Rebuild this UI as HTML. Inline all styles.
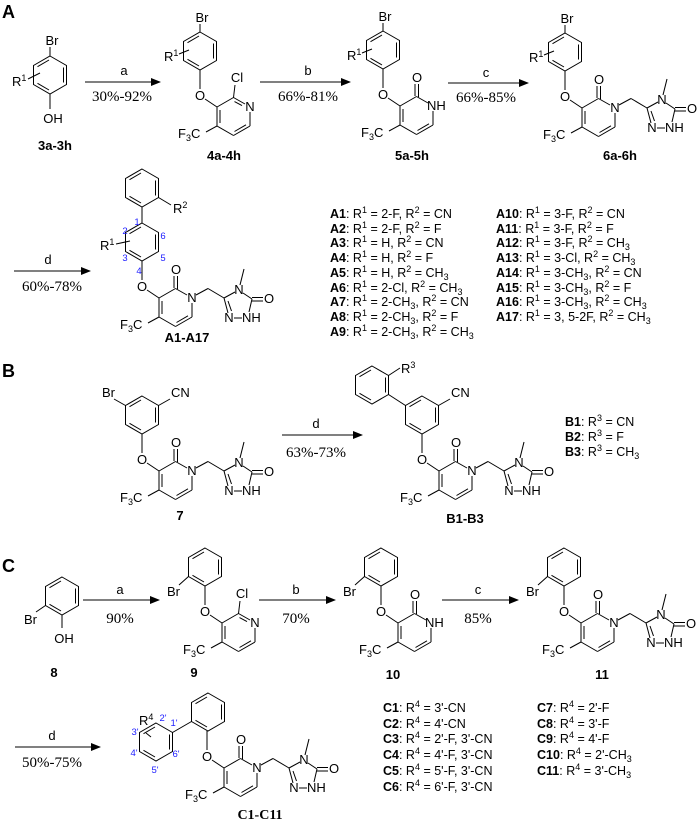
<!DOCTYPE html>
<html><head><meta charset="utf-8"><style>
html,body{margin:0;padding:0;background:#fff;}
svg{display:block;}
.t{font-family:"Liberation Sans",sans-serif;font-size:13px;fill:#000;}
.m{text-anchor:middle;}
.e{text-anchor:end;}
.y{font-family:"Liberation Serif",serif;font-size:15px;text-anchor:middle;}
.b{font-family:"Liberation Sans",sans-serif;font-size:13px;font-weight:bold;text-anchor:middle;}
.l{font-family:"Liberation Sans",sans-serif;font-size:12.5px;}
.h{font-family:"Liberation Sans",sans-serif;font-size:18px;font-weight:bold;}
.n{font-family:"Liberation Sans",sans-serif;font-size:9.5px;fill:#2020ff;text-anchor:middle;}
.s{font-size:9px;}
</style></head><body>
<svg width="700" height="823" viewBox="0 0 700 823" xmlns="http://www.w3.org/2000/svg">
<defs>
<marker id="ah" markerWidth="10" markerHeight="8" refX="9" refY="4" orient="auto" markerUnits="userSpaceOnUse"><path d="M0,0 L10,4 L0,8 Z" fill="#000"/></marker>
<g id="ring" fill="none" stroke="#000" stroke-width="1">
<polygon points="0,-19 16.5,-9.5 16.5,9.5 0,19 -16.5,9.5 -16.5,-9.5"/>
<line x1="13.5" y1="-7.5" x2="13.5" y2="7.5"/>
<line x1="-1" y1="15" x2="-12.5" y2="8.3"/>
<line x1="-12.5" y1="-8.3" x2="-1" y2="-15"/>
</g>
<g id="pyr" fill="none" stroke="#000" stroke-width="1">
<line x1="0" y1="-26" x2="0" y2="-7"/>
<line x1="5" y1="3" x2="17" y2="11"/>
<line x1="17" y1="11" x2="33.5" y2="1.5"/>
<line x1="33.5" y1="1.5" x2="45" y2="8"/>
<line x1="50" y1="16" x2="50" y2="30"/>
<line x1="50" y1="30" x2="33.5" y2="39.5"/>
<line x1="33.5" y1="39.5" x2="17" y2="30"/>
<line x1="17" y1="30" x2="17" y2="11"/>
<line x1="20" y1="14" x2="20" y2="27"/>
<line x1="46" y1="28.8" x2="34.5" y2="35.5"/>
<line x1="17" y1="30" x2="6" y2="36"/>
</g>
<g id="co" fill="none" stroke="#000" stroke-width="1">
<line x1="32" y1="1" x2="32" y2="-11"/>
<line x1="35.5" y1="2" x2="35.5" y2="-11"/>
</g>
<g id="cl" fill="none" stroke="#000" stroke-width="1">
<line x1="33.5" y1="1.5" x2="35" y2="-11"/>
<line x1="34.5" y1="5.6" x2="42" y2="9.6"/>
</g>
<g id="tri" fill="none" stroke="#000" stroke-width="1">
<line x1="54" y1="8" x2="66" y2="1.5"/>
<line x1="66" y1="1.5" x2="82" y2="11"/>
<line x1="82" y1="11" x2="93" y2="5"/>
<line x1="101" y1="6" x2="110" y2="12"/>
<line x1="110" y1="10.5" x2="121" y2="10.5"/>
<line x1="110" y1="14" x2="121" y2="14"/>
<line x1="110" y1="12" x2="107" y2="25"/>
<line x1="92" y1="31" x2="100" y2="31"/>
<line x1="86" y1="26" x2="82" y2="11"/>
<line x1="89.5" y1="24" x2="86" y2="14"/>
<line x1="98" y1="-2" x2="102" y2="-18"/>
</g>
</defs>

<text class="h" x="2" y="18">A</text>
<text class="h" x="2" y="377">B</text>
<text class="h" x="2" y="572">C</text>

<!-- 3a-3h -->
<use href="#ring" x="50" y="75"/>
<line x1="50" y1="56" x2="50" y2="47" stroke="#000"/>
<line x1="50" y1="94" x2="50" y2="109" stroke="#000"/>
<line x1="28" y1="79" x2="40" y2="73" stroke="#000"/>
<text class="t m" x="52" y="45">Br</text>
<text class="t m" x="53" y="123">OH</text>
<text class="t" x="12" y="86">R<tspan class="s" dy="-5">1</tspan></text>
<text class="b" x="55" y="150">3a-3h</text>

<line x1="85" y1="82" x2="160" y2="82" stroke="#000" marker-end="url(#ah)"/>
<text class="t m" x="124" y="75">a</text>
<text class="y" x="122" y="101">30%-92%</text>
<line x1="260" y1="82" x2="350" y2="82" stroke="#000" marker-end="url(#ah)"/>
<text class="t m" x="308" y="75">b</text>
<text class="y" x="308" y="101">66%-81%</text>
<line x1="448" y1="83" x2="528" y2="83" stroke="#000" marker-end="url(#ah)"/>
<text class="t m" x="486" y="77">c</text>
<text class="y" x="486" y="102">66%-85%</text>

<!-- 4a-4h -->
<g transform="translate(200,96)">
<use href="#ring" x="0" y="-45"/>
<line x1="0" y1="-64" x2="0" y2="-72" stroke="#000"/>
<line x1="-21" y1="-42" x2="-11" y2="-46" stroke="#000"/>
<use href="#pyr"/><use href="#cl"/>
<text class="t m" x="2" y="-74">Br</text>
<text class="t" x="-36" y="-35">R<tspan class="s" dy="-5">1</tspan></text>
<text class="t m" x="0" y="4">O</text>
<text class="t m" x="37" y="-14">Cl</text>
<text class="t m" x="50" y="15">N</text>
<text class="t" x="-22" y="42">F<tspan class="s" dy="3">3</tspan><tspan dy="-3">C</tspan></text>
</g>
<text class="b" x="224" y="160">4a-4h</text>

<!-- 5a-5h -->
<g transform="translate(383,95)">
<use href="#ring" x="0" y="-45"/>
<line x1="0" y1="-64" x2="0" y2="-72" stroke="#000"/>
<line x1="-21" y1="-42" x2="-11" y2="-46" stroke="#000"/>
<use href="#pyr"/><use href="#co"/>
<text class="t m" x="2" y="-74">Br</text>
<text class="t" x="-36" y="-35">R<tspan class="s" dy="-5">1</tspan></text>
<text class="t m" x="0" y="4">O</text>
<text class="t m" x="34" y="-13">O</text>
<text class="t" x="44" y="15">NH</text>
<text class="t" x="-22" y="42">F<tspan class="s" dy="3">3</tspan><tspan dy="-3">C</tspan></text>
</g>
<text class="b" x="412" y="160">5a-5h</text>

<!-- 6a-6h -->
<g transform="translate(565,97)">
<use href="#ring" x="0" y="-45"/>
<line x1="0" y1="-64" x2="0" y2="-72" stroke="#000"/>
<line x1="-21" y1="-42" x2="-11" y2="-46" stroke="#000"/>
<use href="#pyr"/><use href="#co"/><use href="#tri"/>
<text class="t m" x="2" y="-74">Br</text>
<text class="t" x="-36" y="-35">R<tspan class="s" dy="-5">1</tspan></text>
<text class="t m" x="0" y="4">O</text>
<text class="t m" x="34" y="-13">O</text>
<text class="t m" x="50" y="15">N</text>
<text class="t m" x="97" y="7">N</text>
<text class="t m" x="87" y="35">N</text>
<text class="t" x="100" y="35">NH</text>
<text class="t m" x="127" y="16">O</text>
<text class="t" x="-22" y="42">F<tspan class="s" dy="3">3</tspan><tspan dy="-3">C</tspan></text>
</g>
<text class="b" x="620" y="160">6a-6h</text>

<line x1="14" y1="271" x2="90" y2="271" stroke="#000" marker-end="url(#ah)"/>
<text class="t m" x="48" y="264">d</text>
<text class="y" x="52" y="291">60%-78%</text>

<!-- A1-A17 -->
<g transform="translate(142,287)">
<use href="#ring" x="0" y="-45"/>
<use href="#ring" x="0" y="-99"/>
<line x1="0" y1="-64" x2="0" y2="-80" stroke="#000"/>
<line x1="16.5" y1="-89.5" x2="29" y2="-82" stroke="#000"/>
<line x1="-26" y1="-43" x2="-12" y2="-46" stroke="#000"/>
<use href="#pyr"/><use href="#co"/><use href="#tri"/>
<text class="t" x="31" y="-74">R<tspan class="s" dy="-5">2</tspan></text>
<text class="t" x="-42" y="-37">R<tspan class="s" dy="-5">1</tspan></text>
<text class="n" x="-5" y="-62">1</text>
<text class="n" x="-17" y="-53">2</text>
<text class="n" x="21" y="-48">6</text>
<text class="n" x="-17" y="-26">3</text>
<text class="n" x="21" y="-26">5</text>
<text class="n" x="-3" y="-13">4</text>
<text class="t m" x="0" y="4">O</text>
<text class="t m" x="34" y="-13">O</text>
<text class="t m" x="50" y="15">N</text>
<text class="t m" x="97" y="7">N</text>
<text class="t m" x="87" y="35">N</text>
<text class="t" x="100" y="35">NH</text>
<text class="t m" x="127" y="16">O</text>
<text class="t" x="-22" y="42">F<tspan class="s" dy="3">3</tspan><tspan dy="-3">C</tspan></text>
</g>
<text class="b" x="187" y="342">A1-A17</text>

<text class="l" x="330" y="218"><tspan font-weight="bold">A1</tspan>: R<tspan class="s" dy="-5">1</tspan><tspan dy="5"> = 2-F,  R</tspan><tspan class="s" dy="-5">2</tspan><tspan dy="5"> = CN</tspan></text>
<text class="l" x="330" y="233"><tspan font-weight="bold">A2</tspan>: R<tspan class="s" dy="-5">1</tspan><tspan dy="5"> = 2-F,  R</tspan><tspan class="s" dy="-5">2</tspan><tspan dy="5"> = F</tspan></text>
<text class="l" x="330" y="247"><tspan font-weight="bold">A3</tspan>: R<tspan class="s" dy="-5">1</tspan><tspan dy="5"> = H, R</tspan><tspan class="s" dy="-5">2</tspan><tspan dy="5"> = CN</tspan></text>
<text class="l" x="330" y="262"><tspan font-weight="bold">A4</tspan>: R<tspan class="s" dy="-5">1</tspan><tspan dy="5"> = H, R</tspan><tspan class="s" dy="-5">2</tspan><tspan dy="5"> = F</tspan></text>
<text class="l" x="330" y="277"><tspan font-weight="bold">A5</tspan>: R<tspan class="s" dy="-5">1</tspan><tspan dy="5"> = H, R</tspan><tspan class="s" dy="-5">2</tspan><tspan dy="5"> = CH</tspan><tspan class="s" dy="3">3</tspan></text>
<text class="l" x="330" y="292"><tspan font-weight="bold">A6</tspan>: R<tspan class="s" dy="-5">1</tspan><tspan dy="5"> = 2-Cl, R</tspan><tspan class="s" dy="-5">2</tspan><tspan dy="5"> = CH</tspan><tspan class="s" dy="3">3</tspan></text>
<text class="l" x="330" y="306"><tspan font-weight="bold">A7</tspan>: R<tspan class="s" dy="-5">1</tspan><tspan dy="5"> = 2-CH</tspan><tspan class="s" dy="3">3</tspan><tspan dy="-3">, R</tspan><tspan class="s" dy="-5">2</tspan><tspan dy="5"> = CN</tspan></text>
<text class="l" x="330" y="321"><tspan font-weight="bold">A8</tspan>: R<tspan class="s" dy="-5">1</tspan><tspan dy="5"> = 2-CH</tspan><tspan class="s" dy="3">3</tspan><tspan dy="-3">, R</tspan><tspan class="s" dy="-5">2</tspan><tspan dy="5"> = F</tspan></text>
<text class="l" x="330" y="336"><tspan font-weight="bold">A9</tspan>: R<tspan class="s" dy="-5">1</tspan><tspan dy="5"> = 2-CH</tspan><tspan class="s" dy="3">3</tspan><tspan dy="-3">, R</tspan><tspan class="s" dy="-5">2</tspan><tspan dy="5"> = CH</tspan><tspan class="s" dy="3">3</tspan></text>
<text class="l" x="496" y="218"><tspan font-weight="bold">A10</tspan>: R<tspan class="s" dy="-5">1</tspan><tspan dy="5"> = 3-F,  R</tspan><tspan class="s" dy="-5">2</tspan><tspan dy="5"> = CN</tspan></text>
<text class="l" x="496" y="233"><tspan font-weight="bold">A11</tspan>: R<tspan class="s" dy="-5">1</tspan><tspan dy="5"> = 3-F,  R</tspan><tspan class="s" dy="-5">2</tspan><tspan dy="5"> = F</tspan></text>
<text class="l" x="496" y="247"><tspan font-weight="bold">A12</tspan>: R<tspan class="s" dy="-5">1</tspan><tspan dy="5"> = 3-F,  R</tspan><tspan class="s" dy="-5">2</tspan><tspan dy="5"> = CH</tspan><tspan class="s" dy="3">3</tspan></text>
<text class="l" x="496" y="262"><tspan font-weight="bold">A13</tspan>: R<tspan class="s" dy="-5">1</tspan><tspan dy="5"> = 3-Cl, R</tspan><tspan class="s" dy="-5">2</tspan><tspan dy="5"> = CH</tspan><tspan class="s" dy="3">3</tspan></text>
<text class="l" x="496" y="277"><tspan font-weight="bold">A14</tspan>: R<tspan class="s" dy="-5">1</tspan><tspan dy="5"> = 3-CH</tspan><tspan class="s" dy="3">3</tspan><tspan dy="-3">, R</tspan><tspan class="s" dy="-5">2</tspan><tspan dy="5"> = CN</tspan></text>
<text class="l" x="496" y="292"><tspan font-weight="bold">A15</tspan>: R<tspan class="s" dy="-5">1</tspan><tspan dy="5"> = 3-CH</tspan><tspan class="s" dy="3">3</tspan><tspan dy="-3">, R</tspan><tspan class="s" dy="-5">2</tspan><tspan dy="5"> = F</tspan></text>
<text class="l" x="496" y="306"><tspan font-weight="bold">A16</tspan>: R<tspan class="s" dy="-5">1</tspan><tspan dy="5"> = 3-CH</tspan><tspan class="s" dy="3">3</tspan><tspan dy="-3">, R</tspan><tspan class="s" dy="-5">2</tspan><tspan dy="5"> = CH</tspan><tspan class="s" dy="3">3</tspan></text>
<text class="l" x="496" y="321"><tspan font-weight="bold">A17</tspan>: R<tspan class="s" dy="-5">1</tspan><tspan dy="5"> = 3, 5-2F, R</tspan><tspan class="s" dy="-5">2</tspan><tspan dy="5"> = CH</tspan><tspan class="s" dy="3">3</tspan></text>

<!-- B: 7 -->
<g transform="translate(142,460)">
<use href="#ring" x="0" y="-45"/>
<line x1="-16.5" y1="-54.5" x2="-28" y2="-61" stroke="#000"/>
<line x1="16.5" y1="-54.5" x2="28" y2="-61" stroke="#000"/>
<use href="#pyr"/><use href="#co"/><use href="#tri"/>
<text class="t e" x="-27" y="-63">Br</text>
<text class="t" x="29" y="-63">CN</text>
<text class="t m" x="0" y="4">O</text>
<text class="t m" x="34" y="-13">O</text>
<text class="t m" x="50" y="15">N</text>
<text class="t m" x="97" y="7">N</text>
<text class="t m" x="87" y="35">N</text>
<text class="t" x="100" y="35">NH</text>
<text class="t m" x="127" y="16">O</text>
<text class="t" x="-22" y="42">F<tspan class="s" dy="3">3</tspan><tspan dy="-3">C</tspan></text>
</g>
<text class="b" x="180" y="520">7</text>

<line x1="282" y1="435" x2="362" y2="435" stroke="#000" marker-end="url(#ah)"/>
<text class="t m" x="316" y="428">d</text>
<text class="y" x="316" y="457">63%-73%</text>

<!-- B1-B3 -->
<g transform="translate(422,460)">
<use href="#ring" x="0" y="-45"/>
<use href="#ring" x="-50" y="-75"/>
<line x1="-16.5" y1="-54.5" x2="-33.5" y2="-65.5" stroke="#000"/>
<line x1="16.5" y1="-54.5" x2="28" y2="-61" stroke="#000"/>
<line x1="-33.5" y1="-84.5" x2="-22" y2="-92" stroke="#000"/>
<use href="#pyr"/><use href="#co"/><use href="#tri"/>
<text class="t" x="-21" y="-87">R<tspan class="s" dy="-5">3</tspan></text>
<text class="t" x="29" y="-63">CN</text>
<text class="t m" x="0" y="4">O</text>
<text class="t m" x="34" y="-13">O</text>
<text class="t m" x="50" y="15">N</text>
<text class="t m" x="97" y="7">N</text>
<text class="t m" x="87" y="35">N</text>
<text class="t" x="100" y="35">NH</text>
<text class="t m" x="127" y="16">O</text>
<text class="t" x="-22" y="42">F<tspan class="s" dy="3">3</tspan><tspan dy="-3">C</tspan></text>
</g>
<text class="b" x="465" y="523">B1-B3</text>
<text class="l" x="565" y="426"><tspan font-weight="bold">B1</tspan>: R<tspan class="s" dy="-5">3</tspan><tspan dy="5"> = CN</tspan></text>
<text class="l" x="565" y="441"><tspan font-weight="bold">B2</tspan>: R<tspan class="s" dy="-5">3</tspan><tspan dy="5"> = F</tspan></text>
<text class="l" x="565" y="456"><tspan font-weight="bold">B3</tspan>: R<tspan class="s" dy="-5">3</tspan><tspan dy="5">  = CH</tspan><tspan class="s" dy="3">3</tspan></text>

<!-- C: 8 -->
<use href="#ring" x="62" y="596"/>
<line x1="62" y1="615" x2="62" y2="628" stroke="#000"/>
<line x1="45.5" y1="605.5" x2="36" y2="612" stroke="#000"/>
<text class="t m" x="64" y="643">OH</text>
<text class="t e" x="37" y="624">Br</text>
<text class="b" x="54" y="677">8</text>

<line x1="83" y1="600" x2="159" y2="600" stroke="#000" marker-end="url(#ah)"/>
<text class="t m" x="120" y="594">a</text>
<text class="y" x="120" y="623">90%</text>
<line x1="259" y1="600" x2="335" y2="600" stroke="#000" marker-end="url(#ah)"/>
<text class="t m" x="296" y="594">b</text>
<text class="y" x="296" y="623">70%</text>
<line x1="442" y1="600" x2="518" y2="600" stroke="#000" marker-end="url(#ah)"/>
<text class="t m" x="478" y="594">c</text>
<text class="y" x="478" y="623">85%</text>

<!-- 9 -->
<g transform="translate(205,612)">
<use href="#ring" x="0" y="-45"/>
<line x1="-16.5" y1="-35.5" x2="-26" y2="-27" stroke="#000"/>
<use href="#pyr"/><use href="#cl"/>
<text class="t e" x="-25" y="-16">Br</text>
<text class="t m" x="0" y="4">O</text>
<text class="t m" x="37" y="-14">Cl</text>
<text class="t m" x="50" y="15">N</text>
<text class="t" x="-22" y="42">F<tspan class="s" dy="3">3</tspan><tspan dy="-3">C</tspan></text>
</g>
<text class="b" x="194" y="677">9</text>

<!-- 10 -->
<g transform="translate(381,612)">
<use href="#ring" x="0" y="-45"/>
<line x1="-16.5" y1="-35.5" x2="-26" y2="-27" stroke="#000"/>
<use href="#pyr"/><use href="#co"/>
<text class="t e" x="-25" y="-16">Br</text>
<text class="t m" x="0" y="4">O</text>
<text class="t m" x="34" y="-13">O</text>
<text class="t" x="44" y="15">NH</text>
<text class="t" x="-22" y="42">F<tspan class="s" dy="3">3</tspan><tspan dy="-3">C</tspan></text>
</g>
<text class="b" x="393" y="679">10</text>

<!-- 11 -->
<g transform="translate(564,612)">
<use href="#ring" x="0" y="-45"/>
<line x1="-16.5" y1="-35.5" x2="-26" y2="-27" stroke="#000"/>
<use href="#pyr"/><use href="#co"/><use href="#tri"/>
<text class="t e" x="-25" y="-16">Br</text>
<text class="t m" x="0" y="4">O</text>
<text class="t m" x="34" y="-13">O</text>
<text class="t m" x="50" y="15">N</text>
<text class="t m" x="97" y="7">N</text>
<text class="t m" x="87" y="35">N</text>
<text class="t" x="100" y="35">NH</text>
<text class="t m" x="127" y="16">O</text>
<text class="t" x="-22" y="42">F<tspan class="s" dy="3">3</tspan><tspan dy="-3">C</tspan></text>
</g>
<text class="b" x="602" y="679">11</text>

<line x1="15" y1="747" x2="100" y2="747" stroke="#000" marker-end="url(#ah)"/>
<text class="t m" x="52" y="740">d</text>
<text class="y" x="52" y="767">50%-75%</text>

<!-- C1-C11 -->
<g transform="translate(207,757)">
<use href="#ring" x="1" y="-45"/>
<use href="#ring" x="-51" y="-15"/>
<line x1="-15.5" y1="-35.5" x2="-34.5" y2="-24.5" stroke="#000"/>
<line x1="-61" y1="-24" x2="-56" y2="-20" stroke="#000"/>
<use href="#pyr"/><use href="#co"/><use href="#tri"/>
<text x="-68" y="-32" style="font-family:'Liberation Sans',sans-serif;font-size:13px;">R<tspan class="s" dy="-5">4</tspan></text>
<text class="n" x="-44" y="-36">2'</text>
<text class="n" x="-33" y="-31">1'</text>
<text class="n" x="-72" y="-22">3'</text>
<text class="n" x="-73" y="-1">4'</text>
<text class="n" x="-31" y="0">6'</text>
<text class="n" x="-52" y="16">5'</text>
<text class="t m" x="0" y="4">O</text>
<text class="t m" x="34" y="-13">O</text>
<text class="t m" x="50" y="15">N</text>
<text class="t m" x="97" y="7">N</text>
<text class="t m" x="87" y="35">N</text>
<text class="t" x="100" y="35">NH</text>
<text class="t m" x="127" y="16">O</text>
<text class="t" x="-22" y="42">F<tspan class="s" dy="3">3</tspan><tspan dy="-3">C</tspan></text>
</g>
<text x="260" y="819" style="font-family:'Liberation Serif',serif;font-size:14px;font-weight:bold;text-anchor:middle">C1-C11</text>

<text class="l" x="383" y="712"><tspan font-weight="bold">C1</tspan>: R<tspan class="s" dy="-5">4</tspan><tspan dy="5"> = 3'-CN</tspan></text>
<text class="l" x="383" y="728"><tspan font-weight="bold">C2</tspan>: R<tspan class="s" dy="-5">4</tspan><tspan dy="5"> = 4'-CN</tspan></text>
<text class="l" x="383" y="743"><tspan font-weight="bold">C3</tspan>: R<tspan class="s" dy="-5">4</tspan><tspan dy="5"> = 2'-F,  3'-CN</tspan></text>
<text class="l" x="383" y="759"><tspan font-weight="bold">C4</tspan>: R<tspan class="s" dy="-5">4</tspan><tspan dy="5"> = 4'-F,  3'-CN</tspan></text>
<text class="l" x="383" y="775"><tspan font-weight="bold">C5</tspan>: R<tspan class="s" dy="-5">4</tspan><tspan dy="5"> = 5'-F,   3'-CN</tspan></text>
<text class="l" x="383" y="791"><tspan font-weight="bold">C6</tspan>: R<tspan class="s" dy="-5">4</tspan><tspan dy="5"> = 6'-F,   3'-CN</tspan></text>
<text class="l" x="537" y="712"><tspan font-weight="bold">C7</tspan>: R<tspan class="s" dy="-5">4</tspan><tspan dy="5"> = 2'-F</tspan></text>
<text class="l" x="537" y="728"><tspan font-weight="bold">C8</tspan>: R<tspan class="s" dy="-5">4</tspan><tspan dy="5"> = 3'-F</tspan></text>
<text class="l" x="537" y="743"><tspan font-weight="bold">C9</tspan>: R<tspan class="s" dy="-5">4</tspan><tspan dy="5"> = 4'-F</tspan></text>
<text class="l" x="537" y="759"><tspan font-weight="bold">C10</tspan>: R<tspan class="s" dy="-5">4</tspan><tspan dy="5"> = 2'-CH</tspan><tspan class="s" dy="3">3</tspan></text>
<text class="l" x="537" y="775"><tspan font-weight="bold">C11</tspan>: R<tspan class="s" dy="-5">4</tspan><tspan dy="5"> = 3'-CH</tspan><tspan class="s" dy="3">3</tspan></text>
</svg>
</body></html>
